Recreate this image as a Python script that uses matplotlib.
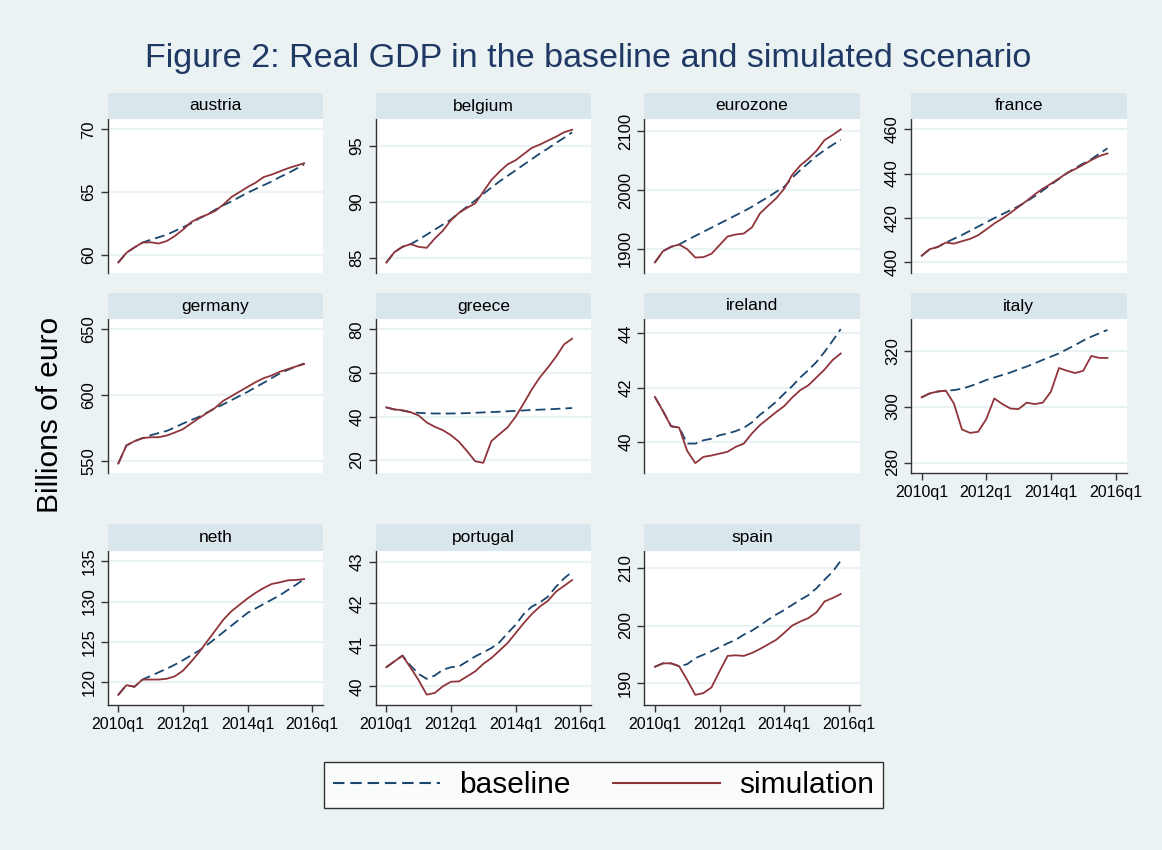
import numpy as np
import matplotlib
matplotlib.use("Agg")
import matplotlib.pyplot as plt
from matplotlib.lines import Line2D

plt.rcParams['font.family'] = ['Liberation Sans', 'DejaVu Sans']

# ---------------- data (quarters 2010q1 .. 2015q4) ----------------
quarters = np.arange(24)
xtick_pos = [0, 8, 16, 24]
xtick_labels = ["2010q1", "2012q1", "2014q1", "2016q1"]

countries = ["austria", "belgium", "eurozone", "france",
             "germany", "greece", "ireland", "italy",
             "neth", "portugal", "spain"]

austria_sim = [59.39, 60.16, 60.59, 60.98, 61.0, 60.9, 61.1, 61.5, 62.0, 62.6, 62.95, 63.2,
               63.5, 64.0, 64.6, 65.0, 65.4, 65.75, 66.2, 66.4, 66.65, 66.9, 67.1, 67.3]
austria_base = [59.39, 60.16, 60.59, 60.98, 61.2, 61.4, 61.6, 61.9, 62.2, 62.5, 62.9, 63.2,
                63.6, 63.95, 64.25, 64.6, 64.95, 65.25, 65.55, 65.85, 66.2, 66.5, 66.85, 67.2]

belgium_sim = [84.55, 85.48, 85.96, 86.2, 85.96, 85.87, 86.7, 87.4, 88.34, 89.0, 89.45, 89.84,
               90.88, 91.93, 92.67, 93.33, 93.7, 94.25, 94.8, 95.1, 95.45, 95.8, 96.2, 96.43]
belgium_base = [84.55, 85.48, 85.96, 86.2, 86.6, 87.05, 87.5, 87.95, 88.4, 89.0, 89.55, 90.1,
                90.7, 91.25, 91.8, 92.3, 92.8, 93.3, 93.8, 94.3, 94.75, 95.25, 95.7, 96.2]

eurozone_sim = [1876.7, 1896, 1903.4, 1907.4, 1899.4, 1885.2, 1885.8, 1891.5, 1906.3, 1921, 1924.4, 1926,
                1936.4, 1960.2, 1973.3, 1985.8, 2002.3, 2026, 2042, 2053.4, 2067, 2085.2, 2093.75, 2103.4]
eurozone_base = [1876.7, 1896, 1903.4, 1907.4, 1915, 1922, 1929, 1936, 1943, 1950, 1957, 1964,
                 1971.5, 1980, 1988, 1997, 2005.5, 2021, 2034, 2046, 2058, 2068, 2077, 2086]

france_sim = [402.9, 405.9, 406.9, 408.9, 408.4, 409.5, 410.55, 412.2, 414.8, 417.5, 419.75, 422.3,
              425.0, 427.7, 430.6, 433.2, 435.4, 437.8, 440.25, 442.06, 444.0, 446.1, 447.9, 449.1]
france_base = [402.9, 405.9, 406.9, 408.9, 410.6, 412.3, 414.2, 416.1, 418.0, 419.9, 421.7, 423.5,
               425.3, 427.5, 429.8, 432.4, 435.0, 437.6, 440.2, 442.5, 444.5, 446.5, 449.0, 451.4]

germany_sim = [548, 561.7, 565.0, 567.3, 568.0, 568.0, 569.3, 571.6, 574.1, 578.4, 582.5, 586.5,
               590.4, 595.7, 599.2, 602.8, 606.3, 609.9, 612.9, 615.0, 617.8, 619.8, 621.8, 623.6]
germany_base = [548, 561.7, 565.0, 567.3, 569.5, 571.2, 572.8, 575.5, 578.4, 581, 583.5, 586.8,
                590, 593, 596.2, 599.3, 602.5, 606, 609.4, 613, 616.5, 619.2, 621.8, 624]

greece_sim = [44.2, 43.25, 42.9, 42.0, 40.5, 37.3, 35.3, 33.75, 31.45, 28.4, 24.1, 19.5,
              18.75, 28.7, 31.9, 35.0, 39.9, 46.0, 52.4, 57.95, 62.5, 67.4, 73.1, 75.7]
greece_base = [44.2, 43.25, 42.7, 42.0, 41.7, 41.5, 41.4, 41.4, 41.4, 41.45, 41.55, 41.7,
               41.9, 42.05, 42.2, 42.4, 42.6, 42.8, 43.0, 43.15, 43.3, 43.5, 43.7, 43.9]

ireland_sim = [41.66, 41.14, 40.58, 40.53, 39.67, 39.22, 39.45, 39.5, 39.57, 39.64, 39.82, 39.94,
               40.31, 40.62, 40.86, 41.1, 41.32, 41.64, 41.91, 42.09, 42.38, 42.67, 43.02, 43.26]
ireland_base = [41.66, 41.14, 40.58, 40.53, 39.94, 39.94, 40.06, 40.12, 40.25, 40.31, 40.4, 40.52,
                40.72, 41.0, 41.23, 41.48, 41.78, 42.06, 42.38, 42.65, 42.95, 43.32, 43.73, 44.16]

italy_sim = [303.3, 304.7, 305.4, 305.7, 301.1, 291.8, 290.6, 291.0, 295.5, 302.9, 300.9, 299.3,
             299.1, 301.4, 300.9, 301.4, 305.3, 313.8, 312.8, 312.0, 312.8, 318.1, 317.4, 317.4]
italy_base = [303.3, 304.7, 305.4, 305.7, 305.9, 306.4, 307.3, 308.3, 309.5, 310.4, 311.3, 312.2,
              313.3, 314.3, 315.5, 316.7, 317.85, 319.0, 320.5, 322.0, 323.6, 325.0, 326.2, 327.4]

neth_sim = [118.4, 119.6, 119.4, 120.3, 120.3, 120.3, 120.4, 120.7, 121.4, 122.5, 123.7, 125.05,
            126.4, 127.75, 128.8, 129.6, 130.4, 131.1, 131.7, 132.2, 132.4, 132.65, 132.7, 132.8]
neth_base = [118.4, 119.6, 119.4, 120.3, 120.75, 121.2, 121.65, 122.15, 122.7, 123.3, 123.9, 124.6,
             125.4, 126.2, 127.0, 127.8, 128.6, 129.15, 129.7, 130.25, 130.8, 131.45, 132.1, 132.8]

portugal_sim = [40.46, 40.6, 40.74, 40.45, 40.15, 39.8, 39.84, 40.0, 40.11, 40.12, 40.24, 40.36,
                40.54, 40.68, 40.86, 41.04, 41.28, 41.52, 41.74, 41.92, 42.06, 42.28, 42.42, 42.56]
portugal_base = [40.46, 40.6, 40.74, 40.5, 40.3, 40.18, 40.26, 40.4, 40.46, 40.48, 40.6, 40.72,
                 40.82, 40.92, 41.06, 41.28, 41.48, 41.74, 41.92, 42.02, 42.16, 42.4, 42.6, 42.76]

spain_sim = [192.8, 193.4, 193.4, 192.9, 190.5, 187.9, 188.2, 189.2, 192.0, 194.7, 194.8, 194.7,
             195.2, 195.9, 196.7, 197.5, 198.7, 200.0, 200.7, 201.3, 202.3, 204.2, 204.8, 205.5]
spain_base = [192.8, 193.4, 193.4, 192.9, 193.25, 194.3, 194.9, 195.5, 196.2, 196.9, 197.5, 198.4,
              199.1, 200.0, 201.0, 201.9, 202.7, 203.6, 204.5, 205.3, 206.5, 208.0, 209.4, 211.3]

baseline = {"austria": austria_base, "belgium": belgium_base, "eurozone": eurozone_base,
            "france": france_base, "germany": germany_base, "greece": greece_base,
            "ireland": ireland_base, "italy": italy_base, "neth": neth_base,
            "portugal": portugal_base, "spain": spain_base}
simulation = {"austria": austria_sim, "belgium": belgium_sim, "eurozone": eurozone_sim,
              "france": france_sim, "germany": germany_sim, "greece": greece_sim,
              "ireland": ireland_sim, "italy": italy_sim, "neth": neth_sim,
              "portugal": portugal_sim, "spain": spain_sim}

yticks = {"austria": [60, 65, 70], "belgium": [85, 90, 95], "eurozone": [1900, 2000, 2100],
          "france": [400, 420, 440, 460], "germany": [550, 600, 650], "greece": [20, 40, 60, 80],
          "ireland": [40, 42, 44], "italy": [280, 300, 320], "neth": [120, 125, 130, 135],
          "portugal": [40, 41, 42, 43], "spain": [190, 200, 210]}
ylims = {"austria": (58.56, 70.8), "belgium": (83.63, 97.36), "eurozone": (1859, 2120.5),
         "france": (395.2, 464.5), "germany": (540.9, 657.6), "greece": (14.15, 84.6),
         "ireland": (38.86, 44.52), "italy": (276.3, 331.2), "neth": (117.18, 136.3),
         "portugal": (39.56, 43.26), "spain": (186.2, 213.0)}

# ---------------- style ----------------
BG = "#EAF2F3"
STRIP = "#D9E6EB"
NAVY = "#1A476F"
MAROON = "#90353B"
W, H = 1162, 850

fig = plt.figure(figsize=(W / 100, H / 100), dpi=100, facecolor=BG)

col_left = [107.7, 375.7, 644.3, 911.0]
row_top = [119.3, 319.3, 551.0]
pw, ph = 215.6, 153.6
strip_h = 26.6

with_xaxis = {"italy", "neth", "portugal", "spain"}

for i, c in enumerate(countries):
    r, k = divmod(i, 4)
    x0 = col_left[k]
    y0 = row_top[r]
    ax = fig.add_axes([x0 / W, 1 - (y0 + ph) / H, pw / W, ph / H])
    ax.set_facecolor("white")
    for y in yticks[c]:
        ax.axhline(y, color=BG, lw=1.6, zorder=1)
    ax.plot(quarters, baseline[c], color=NAVY, lw=1.3, dashes=(5.5, 2.8), zorder=3)
    ax.plot(quarters, simulation[c], color=MAROON, lw=1.3, zorder=4)
    ax.set_xlim(-1.31, 25.37)
    ax.set_ylim(*ylims[c])
    ax.set_yticks(yticks[c])
    ax.set_yticklabels([str(v) for v in yticks[c]], rotation=90, va="center", fontsize=12)
    ax.tick_params(axis="y", direction="out", length=5, width=1, color="#333333", pad=3)
    for s in ["top", "right"]:
        ax.spines[s].set_visible(False)
    ax.spines["left"].set_color("#333333")
    ax.spines["left"].set_linewidth(1.0)
    if c in with_xaxis:
        ax.set_xticks(xtick_pos)
        ax.set_xticklabels(xtick_labels, fontsize=11.5)
        ax.tick_params(axis="x", direction="out", length=5, width=1, color="#333333", pad=4)
        ax.spines["bottom"].set_color("#333333")
        ax.spines["bottom"].set_linewidth(1.0)
    else:
        ax.set_xticks([])
        ax.spines["bottom"].set_visible(False)
    # strip
    sax = fig.add_axes([x0 / W, 1 - y0 / H, pw / W, strip_h / H])
    sax.set_facecolor(STRIP)
    sax.set_xticks([])
    sax.set_yticks([])
    for s in sax.spines.values():
        s.set_visible(False)
    sax.text(0.5, 0.5, c, ha="center", va="center", fontsize=12.5, transform=sax.transAxes)

fig.text(588 / W, 1 - 58 / H, "Figure 2: Real GDP in the baseline and simulated scenario",
         ha="center", va="center", fontsize=24.6, color="#1F3864")
fig.text(50 / W, 1 - 415 / H, "Billions of euro", ha="center", va="center",
         rotation=90, fontsize=21.5)

handles = [Line2D([], [], color=NAVY, lw=1.5, dashes=(5.5, 2.8)),
           Line2D([], [], color=MAROON, lw=1.5)]
leg = fig.legend(handles, ["baseline", "simulation"], ncol=2, loc="center",
                 bbox_to_anchor=(603.5 / W, 1 - 785 / H), fontsize=21.5,
                 frameon=True, fancybox=False, edgecolor="black", facecolor="white",
                 handlelength=3.6, handletextpad=0.64, columnspacing=1.4,
                 borderpad=0.3, borderaxespad=0)
leg.get_frame().set_linewidth(1.0)

fig.savefig("out.png", dpi=100, facecolor=BG)
